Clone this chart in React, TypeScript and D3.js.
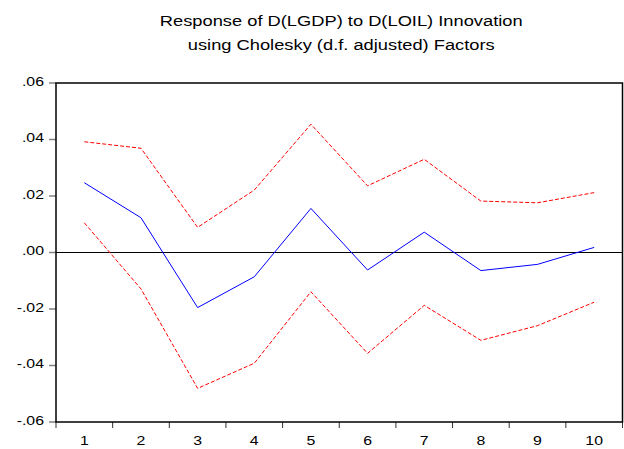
import React from "react";
import * as d3 from "d3";

const periods = [1, 2, 3, 4, 5, 6, 7, 8, 9, 10];
const response = [0.0247, 0.0123, -0.0195, -0.0086, 0.0156, -0.0062, 0.0072, -0.0064, -0.0042, 0.0018];
const upperBand = [0.0392, 0.0369, 0.0089, 0.0221, 0.0454, 0.0236, 0.033, 0.0182, 0.0176, 0.0212];
const lowerBand = [0.0105, -0.0129, -0.0481, -0.0392, -0.0139, -0.0357, -0.0187, -0.0311, -0.0259, -0.0176];
const yTicks = [0.06, 0.04, 0.02, 0.0, -0.02, -0.04, -0.06];
const titleLines = ["Response of D(LGDP) to D(LOIL) Innovation", "using Cholesky (d.f. adjusted) Factors"];

const W = 624;
const H = 449;
const left = 56;
const right = 622.5;
const top = 83;
const bottom = 422;
const SX = 1.22;

const fmt = (v: number) => {
  if (v === 0) return ".00";
  const s = Math.abs(v).toFixed(2).replace(/^0/, "");
  return v < 0 ? "-" + s : s;
};

export default function App() {
  const x = d3.scaleBand<number>().domain(periods).range([left, right]).padding(0);
  const y = d3.scaleLinear().domain([-0.06, 0.06]).range([bottom, top]);
  const cx = (p: number) => (x(p) as number) + x.bandwidth() / 2;
  const line = d3
    .line<number>()
    .x((_, i) => cx(periods[i]))
    .y((d) => y(d));
  const font = "Arial, 'Liberation Sans', sans-serif";
  const boundaries = periods.map((p) => x(p) as number).concat([right]);

  return (
    <svg width={W} height={H} style={{ position: "absolute", left: 0, top: 0, background: "#fff" }}>
      <rect x={0} y={0} width={W} height={H} fill="#fff" />
      {titleLines.map((t, i) => (
        <text
          key={i}
          transform={`translate(${(left + right) / 2 + 2},${26 + i * 23.5}) scale(${SX},1)`}
          textAnchor="middle"
          fontFamily={font}
          fontSize={15}
          fill="#000"
        >
          {t}
        </text>
      ))}
      {yTicks.map((v) => (
        <g key={v}>
          <line x1={49} x2={left} y1={y(v)} y2={y(v)} stroke="#808080" strokeWidth={1.5} />
          <text
            transform={`translate(44,${y(v) + 2.5}) scale(${SX},1)`}
            textAnchor="end"
            fontFamily={font}
            fontSize={13}
            fill="#000"
          >
            {fmt(v)}
          </text>
        </g>
      ))}
      {boundaries.map((b, i) => (
        <line key={i} x1={b} x2={b} y1={bottom} y2={bottom + 6} stroke="#333" strokeWidth={1} />
      ))}
      {periods.map((p) => (
        <text
          key={p}
          transform={`translate(${cx(p)},445) scale(${SX},1)`}
          textAnchor="middle"
          fontFamily={font}
          fontSize={13}
          fill="#000"
        >
          {p}
        </text>
      ))}
      <line x1={left} x2={right} y1={y(0)} y2={y(0)} stroke="#000" strokeWidth={1} />
      <path d={line(upperBand) || ""} fill="none" stroke="#ff0000" strokeWidth={1} strokeDasharray="4,2" />
      <path d={line(lowerBand) || ""} fill="none" stroke="#ff0000" strokeWidth={1} strokeDasharray="4,2" />
      <path d={line(response) || ""} fill="none" stroke="#0000ff" strokeWidth={1} />
      <rect x={left} y={top} width={right - left} height={bottom - top} fill="none" stroke="#000" strokeWidth={1.5} />
    </svg>
  );
}
